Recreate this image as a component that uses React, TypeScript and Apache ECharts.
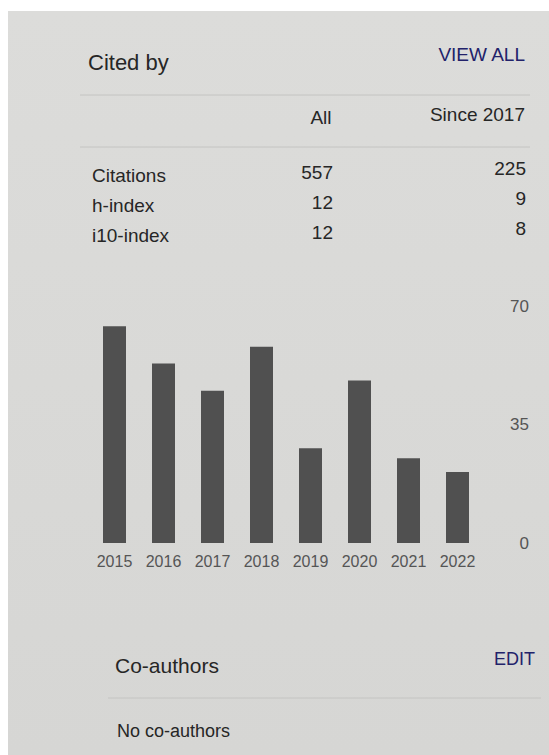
import React, { useEffect, useRef } from "react";
import * as echarts from "echarts";

const years = ["2015", "2016", "2017", "2018", "2019", "2020", "2021", "2022"];
const citations = [64, 53, 45, 58, 28, 48, 25, 21];
const yTicks = [0, 35, 70];

const rowLabels = ["Citations", "h-index", "i10-index"];
const allValues = ["557", "12", "12"];
const sinceValues = ["225", "9", "8"];
const colHeaders = ["All", "Since 2017"];

const FONT = "'Liberation Sans', Arial, sans-serif";
const TEXT = "#262626";
const LINK = "#22226a";
const LINE = "#c4c4c2";

export default function App() {
  const ref = useRef<HTMLDivElement>(null);
  useEffect(() => {
    document.body.style.margin = "0";
    const chart = echarts.init(ref.current!, null, { renderer: "svg" });
    const labelY = [175, 205, 235];
    const allY = [172, 202, 232];
    const sinceY = [168, 198, 228];
    const graphic: any[] = [
      {
        type: "rect",
        z: -10,
        shape: { x: 8, y: 11, width: 541, height: 744 },
        style: {
          fill: new echarts.graphic.LinearGradient(0, 0, 0, 1, [
            { offset: 0, color: "#dcdcda" },
            { offset: 1, color: "#d6d6d4" },
          ]),
        },
      },
      { type: "text", x: 88, y: 62, style: { text: "Cited by", font: `22px ${FONT}`, fill: TEXT, verticalAlign: "middle" } },
      { type: "text", x: 525, y: 54, style: { text: "VIEW ALL", font: `19px ${FONT}`, fill: LINK, align: "right", verticalAlign: "middle" } },
      { type: "line", shape: { x1: 80, y1: 95, x2: 530, y2: 95 }, style: { stroke: LINE, lineWidth: 1 } },
      { type: "text", x: 321, y: 117, style: { text: colHeaders[0], font: `19px ${FONT}`, fill: TEXT, align: "center", verticalAlign: "middle" } },
      { type: "text", x: 525, y: 114, style: { text: colHeaders[1], font: `19px ${FONT}`, fill: TEXT, align: "right", verticalAlign: "middle" } },
      { type: "line", shape: { x1: 80, y1: 147, x2: 530, y2: 147 }, style: { stroke: LINE, lineWidth: 1 } },
      { type: "text", x: 115, y: 665, style: { text: "Co-authors", font: `21px ${FONT}`, fill: TEXT, verticalAlign: "middle" } },
      { type: "text", x: 535, y: 659, style: { text: "EDIT", font: `18px ${FONT}`, fill: LINK, align: "right", verticalAlign: "middle" } },
      { type: "line", shape: { x1: 108, y1: 698, x2: 541, y2: 698 }, style: { stroke: LINE, lineWidth: 1 } },
      { type: "text", x: 117, y: 731, style: { text: "No co-authors", font: `18px ${FONT}`, fill: TEXT, verticalAlign: "middle" } },
    ];
    rowLabels.forEach((lab, i) => {
      graphic.push({ type: "text", x: 92, y: labelY[i], style: { text: lab, font: `19px ${FONT}`, fill: TEXT, verticalAlign: "middle" } });
      graphic.push({ type: "text", x: 333, y: allY[i], style: { text: allValues[i], font: `19px ${FONT}`, fill: TEXT, align: "right", verticalAlign: "middle" } });
      graphic.push({ type: "text", x: 526, y: sinceY[i], style: { text: sinceValues[i], font: `19px ${FONT}`, fill: TEXT, align: "right", verticalAlign: "middle" } });
    });

    chart.setOption({
      animation: false,
      backgroundColor: "#ffffff",
      graphic,
      grid: { left: 90, right: 549 - 482, top: 306, bottom: 755 - 543, containLabel: false },
      xAxis: {
        type: "category",
        data: years,
        axisLine: { show: false },
        axisTick: { show: false },
        axisLabel: { color: "#555555", fontSize: 16, fontFamily: FONT, margin: 10 },
      },
      yAxis: {
        type: "value",
        position: "right",
        min: yTicks[0],
        max: yTicks[yTicks.length - 1],
        interval: yTicks[1] - yTicks[0],
        splitLine: { show: false },
        axisLine: { show: false },
        axisTick: { show: false },
        axisLabel: { color: "#555555", fontSize: 17, fontFamily: FONT, align: "right", margin: 47 },
      },
      series: [
        {
          type: "bar",
          data: citations,
          barWidth: 23,
          itemStyle: { color: "#505050" },
        },
      ],
    });
    return () => chart.dispose();
  }, []);
  return <div ref={ref} style={{ position: "fixed", left: 0, top: 0, width: 549, height: 755 }} />;
}
